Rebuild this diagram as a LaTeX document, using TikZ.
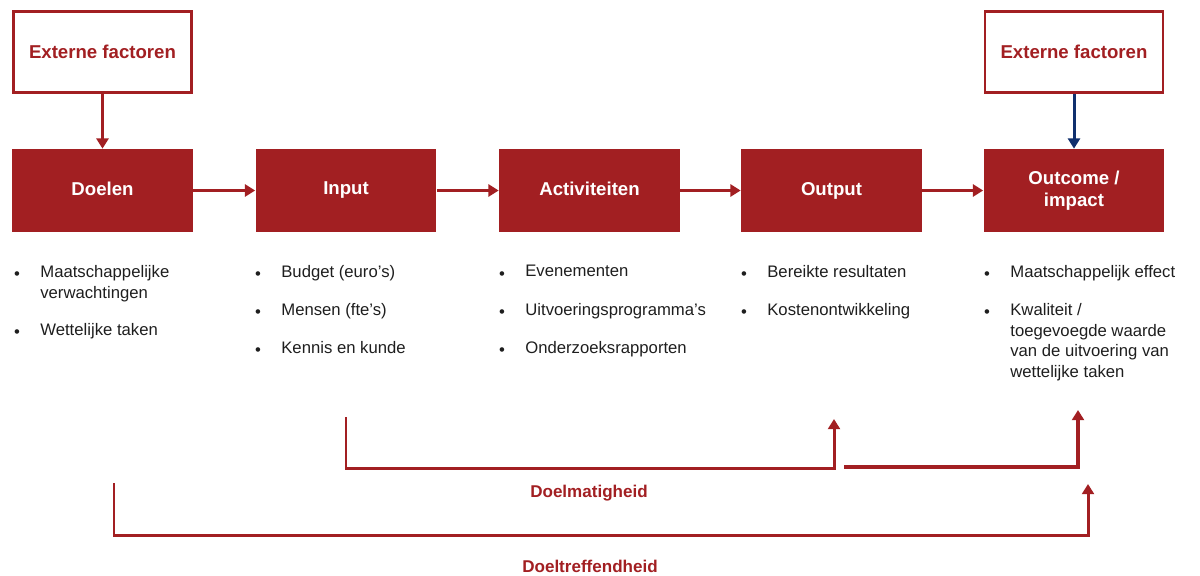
\documentclass[tikz,border=0pt]{standalone}
\usepackage{fontspec}
\setmainfont{Liberation Sans}
\usetikzlibrary{arrows.meta}
\definecolor{myred}{HTML}{A21F22}
\definecolor{mynavy}{HTML}{10306E}
\definecolor{mytext}{HTML}{1E1E1E}

\begin{document}
\begin{tikzpicture}[x=0.02cm, y=-0.02cm,
    stap/.style={fill=myred, text=white, font=\bfseries\fontsize{10.6}{12.5}\selectfont, minimum width=3.62cm, minimum height=1.66cm, align=center, inner sep=0pt, execute at begin node=\vphantom{Dp}},
    extern/.style={draw=myred, line width=1.5pt, fill=white, text=myred, font=\bfseries\fontsize{10.6}{12.5}\selectfont, minimum width=3.56cm, minimum height=1.63cm},
    pijl/.style={-{Triangle[width=6.8pt,length=5.8pt]}, line width=1.7pt, myred},
    bul/.style={text=mytext, font=\fontsize{9.5}{11.8}\selectfont, inner sep=0pt},
    item/.style={bul, anchor=north west, align=left},
    kop/.style={text=myred, font=\bfseries\fontsize{9.7}{12}\selectfont}]

    \useasboundingbox (0,0) rectangle (1200,575); % page size in pixels

    % External factors on top
    \node[extern] (ext1) at (102.5,52) {Externe factoren};
    \node[extern] (ext2) at (1074,52) {Externe factoren};

    % The five steps of the chain
    \foreach \xx/\name/\txt in {102.5/doel/Doelen, 346/input/Input, 589.5/act/Activiteiten, 831.5/output/Output, 1074/outcome/{Outcome /\\impact}} {
        \node[stap] (\name) at (\xx,190.5) {\txt};
    }

    % Arrows between the steps
    \foreach \a/\b in {doel/input, input/act, act/output, output/outcome} {
        \draw[pijl] (\a) -- (\b);
    }
    \draw[pijl] (ext1) -- (doel);
    \draw[pijl, mynavy] (ext2.south -| outcome.north) -- (outcome.north);

    % Bullet lists under each step
    \foreach \xx/\yy/\txt [count=\n] in {
        17/272/{Maatschappelijke\\verwachtingen}, 17/330/{Wettelijke taken},
        258/272/{Budget (euro’s)}, 258/310/{Mensen (fte’s)}, 258/348/{Kennis en kunde},
        502/272/{Evenementen}, 502/310/{Uitvoeringsprogramma’s}, 502/348/{Onderzoeksrapporten},
        744/272/{Bereikte resultaten}, 744/310/{Kostenontwikkeling},
        987/272/{Maatschappelijk effect}, 987/310/{Kwaliteit /\\toegevoegde waarde\\van de uitvoering van\\wettelijke taken}} {
        \node[bul] (bul\n) at (\xx,\yy+4) {•};
        \node[item] (itm\n) at (\xx+23,\yy-7) {\txt};
    }

    % Doelmatigheid bracket
    \coordinate (dmA) at (346,417);
    \coordinate (dmB) at (834,468);
    \coordinate (dmC) at (834,419);
    \draw[pijl] (dmA) |- (dmB) -- (dmC);
    \coordinate (dmD) at (844,467);
    \coordinate (dmE) at (1078,467);
    \coordinate (dmF) at (1078,410);
    \draw[pijl, line width=2.8pt] (dmD) -- (dmE) -- (dmF);
    \node[kop] (dm) at (589,493) {Doelmatigheid};

    % Doeltreffendheid bracket
    \coordinate (dtA) at (114,483);
    \coordinate (dtB) at (1088,535);
    \coordinate (dtC) at (1088,484);
    \draw[pijl] (dtA) |- (dtB) -- (dtC);
    \node[kop] (dt) at (590,566) {Doeltreffendheid};
\end{tikzpicture}
\end{document}
